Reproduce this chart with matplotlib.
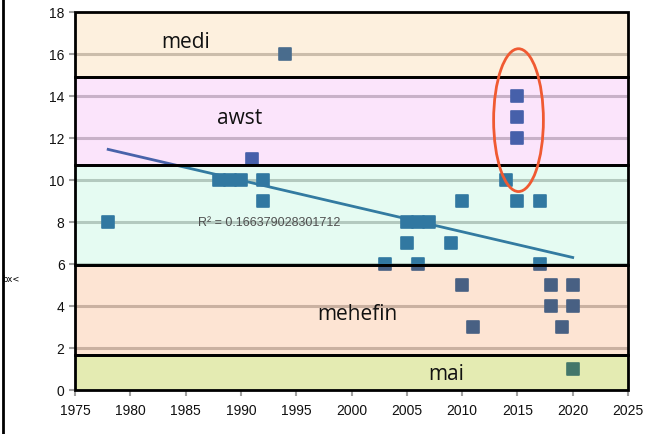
import numpy as np
import matplotlib
matplotlib.use("Agg")
import matplotlib.pyplot as plt
from matplotlib.patches import Rectangle, Ellipse
from matplotlib.markers import MarkerStyle

# observations (year, value)
years = [1978, 1988, 1989, 1990, 1991, 1992, 1992, 1994, 2003, 2005, 2006, 2007,
         2005, 2006, 2009, 2010, 2010, 2011, 2014, 2015, 2015, 2015, 2015,
         2017, 2017, 2018, 2018, 2019, 2020, 2020, 2020]
values = [8, 10, 10, 10, 11, 10, 9, 16, 6, 8, 8, 8,
          7, 6, 7, 9, 5, 3, 10, 14, 13, 12, 9,
          9, 6, 5, 4, 3, 5, 4, 1]

# month bands: name, lower, upper
band_names = ["mai", "mehefin", "", "awst", "medi"]
band_low = [0, 1.65, 5.95, 10.7, 14.9]
band_high = [1.65, 5.95, 10.7, 14.9, 18]
band_label_x = [2008.6, 2000.5, None, 1989.9, 1985.0]
band_label_y = [0.75, 3.6, None, 12.95, 16.55]

r2_text = "R\u00b2 = 0.166379028301712"

# overlay colours (alpha, rgb) chosen so that marks underneath get tinted
band_colors = [(0.30, "#a8c000"), (0.22, "#f6843b"), (0.22, "#8df1c4"),
               (0.22, "#ed84ed"), (0.22, "#fabb69")]

W, H = 645, 434
fig = plt.figure(figsize=(W / 100, H / 100), dpi=100)
ax = fig.add_axes([75 / W, 1 - 390 / H, (628 - 75) / W, (390 - 12) / H])

x = np.array(years, dtype=float)
y = np.array(values, dtype=float)

ax.set_xlim(1975, 2025)
ax.set_ylim(0, 18)
ax.set_xticks(np.arange(1975, 2026, 5))
ax.set_yticks(np.arange(0, 19, 2))
for s in ax.spines.values():
    s.set_visible(False)
ax.tick_params(colors="#a0a0a0", labelcolor="#111111", length=4, width=1.5)
ax.tick_params(axis="x", pad=6)
for lab in ax.get_xticklabels() + ax.get_yticklabels():
    lab.set_family("Liberation Sans")
    lab.set_fontsize(10)

# grid lines
for gy in np.arange(2, 18, 2):
    ax.axhline(gy, color="#bebebe", lw=2.2, zorder=1)

# trend line
slope, icpt = np.polyfit(x, y, 1)
xl = np.array([1978, 2020])
ax.plot(xl, icpt + slope * xl, color="#1a5a98", lw=2, zorder=2)

# points
ms = MarkerStyle("s", joinstyle="round")
ax.plot(x, y, ls="none", marker=ms, ms=9, mfc="#185798", mec="#185798",
        mew=1.2, zorder=3)

# translucent bands on top
for lo, hi, (a, c) in zip(band_low, band_high, band_colors):
    ax.add_patch(Rectangle((1975, lo), 50, hi - lo, facecolor=c, alpha=a,
                           edgecolor="none", zorder=4))
for lo, hi in zip(band_low, band_high):
    ax.add_patch(Rectangle((1975, lo), 50, hi - lo, facecolor="none",
                           edgecolor="black", lw=2, zorder=5, clip_on=False))

for name, lx, ly in zip(band_names, band_label_x, band_label_y):
    if name:
        ax.text(lx, ly, name, fontsize=15, family="Open Sans", color="#111111",
                ha="center", va="center", zorder=6)

ax.text(1986.1, 7.95, r2_text, fontsize=9, family="Liberation Sans",
        color="#505050", ha="left", va="center", zorder=6)

ax.add_patch(Ellipse((2015.1, 12.85), 4.5, 6.8, facecolor="none",
                     edgecolor="#f05a32", lw=2, zorder=7))

fig.add_artist(plt.Line2D([3 / W, 3 / W], [0, 1], color="black", lw=2))
fig.text(2 / W, 1 - 280 / H, "bx<", fontsize=6, va="center", ha="left")

fig.savefig("out.png", dpi=100)
